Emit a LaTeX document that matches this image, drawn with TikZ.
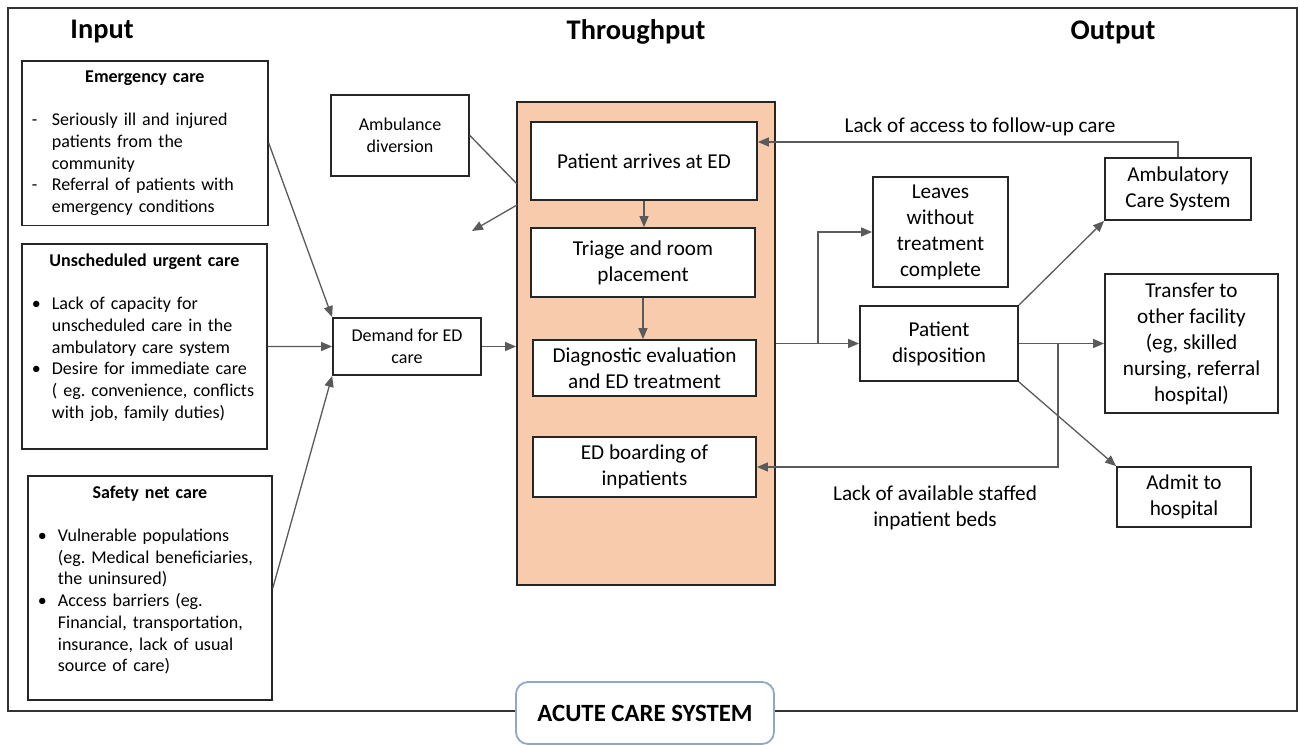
\documentclass[tikz,border=0pt]{standalone}
\usepackage{fontspec}
\setmainfont{Carlito}
\usetikzlibrary{arrows.meta,positioning}
\definecolor{zonefill}{HTML}{F8CBAD}
\definecolor{acuteline}{HTML}{8EA9C8}
\definecolor{wire}{HTML}{5A5A5A}
\newcommand{\listfont}{\fontsize{9}{10.85}\selectfont\frenchspacing\hyphenpenalty=10000\relax}
\newcommand{\litem}[2]{\par\leftskip=10pt\noindent\hspace*{-10pt}\makebox[10pt][l]{#1}#2\par}
\newcommand{\padbot}[1]{\par\vspace{#1}\hrule height 0pt width 0pt}
\newcommand{\boxtitle}[1]{{\centering\bfseries #1\par}\vspace{10.7pt}}
\tikzset{
  box/.style={draw=black!85,line width=0.9pt,fill=white,align=center,
    inner sep=1pt,font=\fontsize{10.6}{13}\selectfont},
  smallbox/.style={box,font=\fontsize{9}{10.85}\selectfont},
  listbox/.style={draw=black!85,line width=0.9pt,fill=white,anchor=north west,
    text width=#1,align=left,inner xsep=5pt,inner ysep=5pt,font=\listfont},
  head/.style={font=\fontsize{14.2}{17}\selectfont\bfseries},
  note/.style={align=center,font=\fontsize{10.6}{13}\selectfont},
}

\begin{document}
\begin{tikzpicture}[x=0.5pt,y=-0.5pt,>={Triangle[length=5.5pt,width=4.5pt]}]
   \useasboundingbox (0,0) rectangle (1300,744);
   \draw[black!80,line width=0.8pt] (8,8) rectangle (1297,711);
   \node[head] (in_head)   at (102,32)  {Input};
   \node[head] (thru_head) at (636,32)  {Throughput};
   \node[head] (out_head)  at (1113,32) {Output};

   \node[listbox=113pt] (em_care) at (21,60) {\boxtitle{Emergency care}%
      \litem{-}{Seriously ill and injured\\patients from the\\community}%
      \litem{-}{Referral of patients with\\emergency conditions}};
   \node[listbox=112.5pt] (urg_care) at (21,243) {\boxtitle{Unscheduled urgent care}%
      \litem{\textbullet}{Lack of capacity for\\unscheduled care in the\\ambulatory care system}%
      \litem{\textbullet}{Desire for immediate care\\( eg. convenience, conflicts\\with job, family duties)}%
      \padbot{9pt}};
   \node[listbox=112pt] (net_care) at (27,475) {\boxtitle{Safety net care}%
      \litem{\textbullet}{Vulnerable populations\\(eg. Medical beneficiaries,\\the uninsured)}%
      \litem{\textbullet}{Access barriers (eg.\\Financial, transportation,\\insurance, lack of usual\\source of care)}%
      \padbot{8pt}};

   \node[smallbox,minimum width=74pt,minimum height=28.5pt] (demand) at (407,346.5) {Demand for ED\\care};
   \node[smallbox,minimum width=69pt,minimum height=40.5pt] (amb_div) at (400,135.5) {Ambulance\\diversion};

   \node[draw=black!85,line width=0.9pt,fill=zonefill,minimum width=129pt,minimum height=241.5pt] (ed_zone) at (646,343.5) {};
   \node[box,minimum width=113pt,minimum height=39pt] (arrives) at (644,161) {Patient arrives at ED};
   \node[box,minimum width=112pt,minimum height=34.5pt] (triage) at (643,262.5) {Triage and room\\placement};
   \node[box,minimum width=111.5pt,minimum height=28pt] (diag) at (644.5,368) {Diagnostic evaluation\\and ED treatment};
   \node[box,minimum width=111.5pt,minimum height=30pt] (boarding) at (644.5,467) {ED boarding of\\inpatients};

   \node[box,minimum width=67.5pt,minimum height=55pt] (leaves) at (940.5,232) {Leaves\\without\\treatment\\complete};
   \node[box,minimum width=79pt,minimum height=37.5pt] (dispo) at (939,343.5) {Patient\\disposition};
   \node[box,minimum width=73pt,minimum height=31pt] (amb_care) at (1178,189) {Ambulatory\\Care System};
   \node[box,minimum width=86.5pt,minimum height=69.5pt] (transfer) at (1191.5,343.5) {Transfer to\\other facility\\(eg, skilled\\nursing, referral\\hospital)};
   \node[box,minimum width=67pt,minimum height=30pt] (admit) at (1184,497) {Admit to\\hospital};

   \node[note] (follow_note) at (980,127) {Lack of access to follow-up care};
   \node[note] (beds_note) at (935,508) {Lack of available staffed\\inpatient beds};

   \coordinate (div_in)  at (517,184);
   \coordinate (div_out) at (517,205);
   \coordinate (div_end) at (472,231);
   \coordinate (split_a) at (818,343.5);
   \coordinate (split_b) at (1058,343.5);

   \path[->,wire,line width=0.65pt]
    (em_care.east) edge (demand.north west)
    (urg_care.east) edge (demand.west)
    (net_care.east) edge (demand.south west)
    (demand.east) edge (demand.east -| ed_zone.west)
    (div_out) edge (div_end)
    (arrives.south) edge (arrives.south |- triage.north)
    (triage.south) edge (triage.south |- diag.north)
    (ed_zone.east) edge (dispo.west)
    (dispo.east) edge (transfer.west)
    (dispo.north east) edge (amb_care.south west)
    (dispo.south east) edge (admit.north west);
   \draw[wire,line width=0.65pt] (amb_div.east) -- (div_in);
   \draw[->,wire,line width=0.65pt] (split_a) |- (leaves.west);
   \draw[->,wire,line width=0.65pt] (split_b) |- (boarding.east);
   \draw[->,wire,line width=0.65pt] (amb_care.north) |- ([yshift=9.5pt]arrives.east);

   \node[draw=acuteline,line width=0.9pt,fill=white,rounded corners=6pt,minimum width=129pt,
     minimum height=31pt,font=\fontsize{12.4}{15}\selectfont\bfseries] (acute) at (645,713) {ACUTE CARE SYSTEM};
\end{tikzpicture}
\end{document}
